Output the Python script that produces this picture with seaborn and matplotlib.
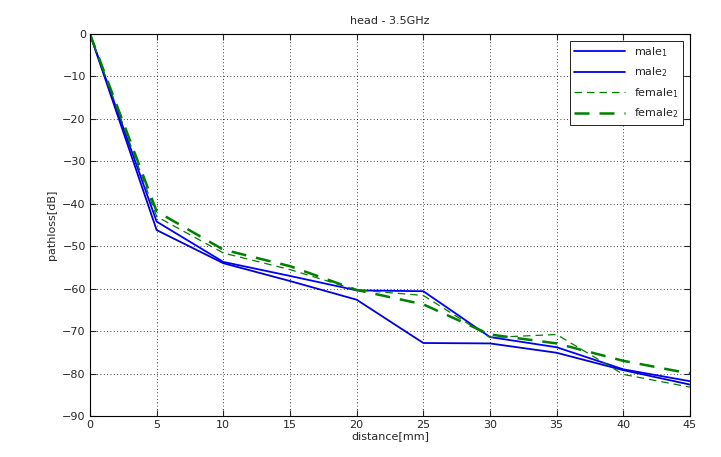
import matplotlib
matplotlib.use("Agg")
import matplotlib.pyplot as plt
import seaborn as sns
import pandas as pd

distance = [0, 5, 10, 15, 20, 25, 30, 35, 40, 45]
male1 = [0, -44.2, -53.7, -57.0, -60.4, -60.6, -71.4, -73.8, -79.0, -81.8]
male2 = [0, -46.2, -54.0, -58.2, -62.6, -72.8, -72.9, -75.1, -79.2, -82.6]
female1 = [0, -43.0, -51.6, -55.5, -60.3, -61.6, -71.5, -70.8, -80.2, -83.2]
female2 = [0, -41.8, -50.8, -54.7, -60.3, -63.7, -70.8, -72.9, -77.0, -80.0]

labels = ["male$_1$", "male$_2$", "female$_1$", "female$_2$"]
series = [male1, male2, female1, female2]
colors = ["#0000ff", "#0000dd", "#007f00", "#007f00"]
styles = ["-", "-", (0, (6, 4)), (0, (6, 4))]
widths = [1.3, 1.3, 0.9, 1.8]

sns.set_style("white")
plt.rcParams["font.family"] = ["DejaVu Sans"]

fig = plt.figure(figsize=(7.21, 4.57), dpi=100)
ax = fig.add_axes([0.1248, 0.0897, 0.957 - 0.1248, 0.9256 - 0.0897])

for lab, vals, c, ls, lw in zip(labels, series, colors, styles, widths):
    df = pd.DataFrame({"distance": distance, "pathloss": vals})
    sns.lineplot(data=df, x="distance", y="pathloss", ax=ax, color=c,
                 linestyle=ls, linewidth=lw, label=lab)

ax.set_xlim(0, 45)
ax.set_ylim(-90, 0)
ax.set_xticks(range(0, 46, 5))
ax.set_yticks(range(-90, 1, 10))
ax.grid(True, color="black", linestyle=(0, (1, 3)), linewidth=0.6)
ax.tick_params(direction="in", length=4, labelsize=8, top=True, right=True,
               bottom=True, left=True, pad=3)
for s in ax.spines.values():
    s.set_color("black")
    s.set_linewidth(0.8)
ax.set_xlabel("distance[mm]", fontsize=8, labelpad=1)
ax.set_ylabel("pathloss[dB]", fontsize=8, labelpad=4)
ax.set_title("head - 3.5GHz", fontsize=8, pad=7)
leg = ax.legend(loc="upper right", fontsize=8, frameon=True, fancybox=False,
                edgecolor="black", framealpha=1, borderaxespad=0.6,
                handlelength=4.6, labelspacing=0.6)
leg.get_frame().set_linewidth(0.6)

fig.savefig("out.png", dpi=100)
